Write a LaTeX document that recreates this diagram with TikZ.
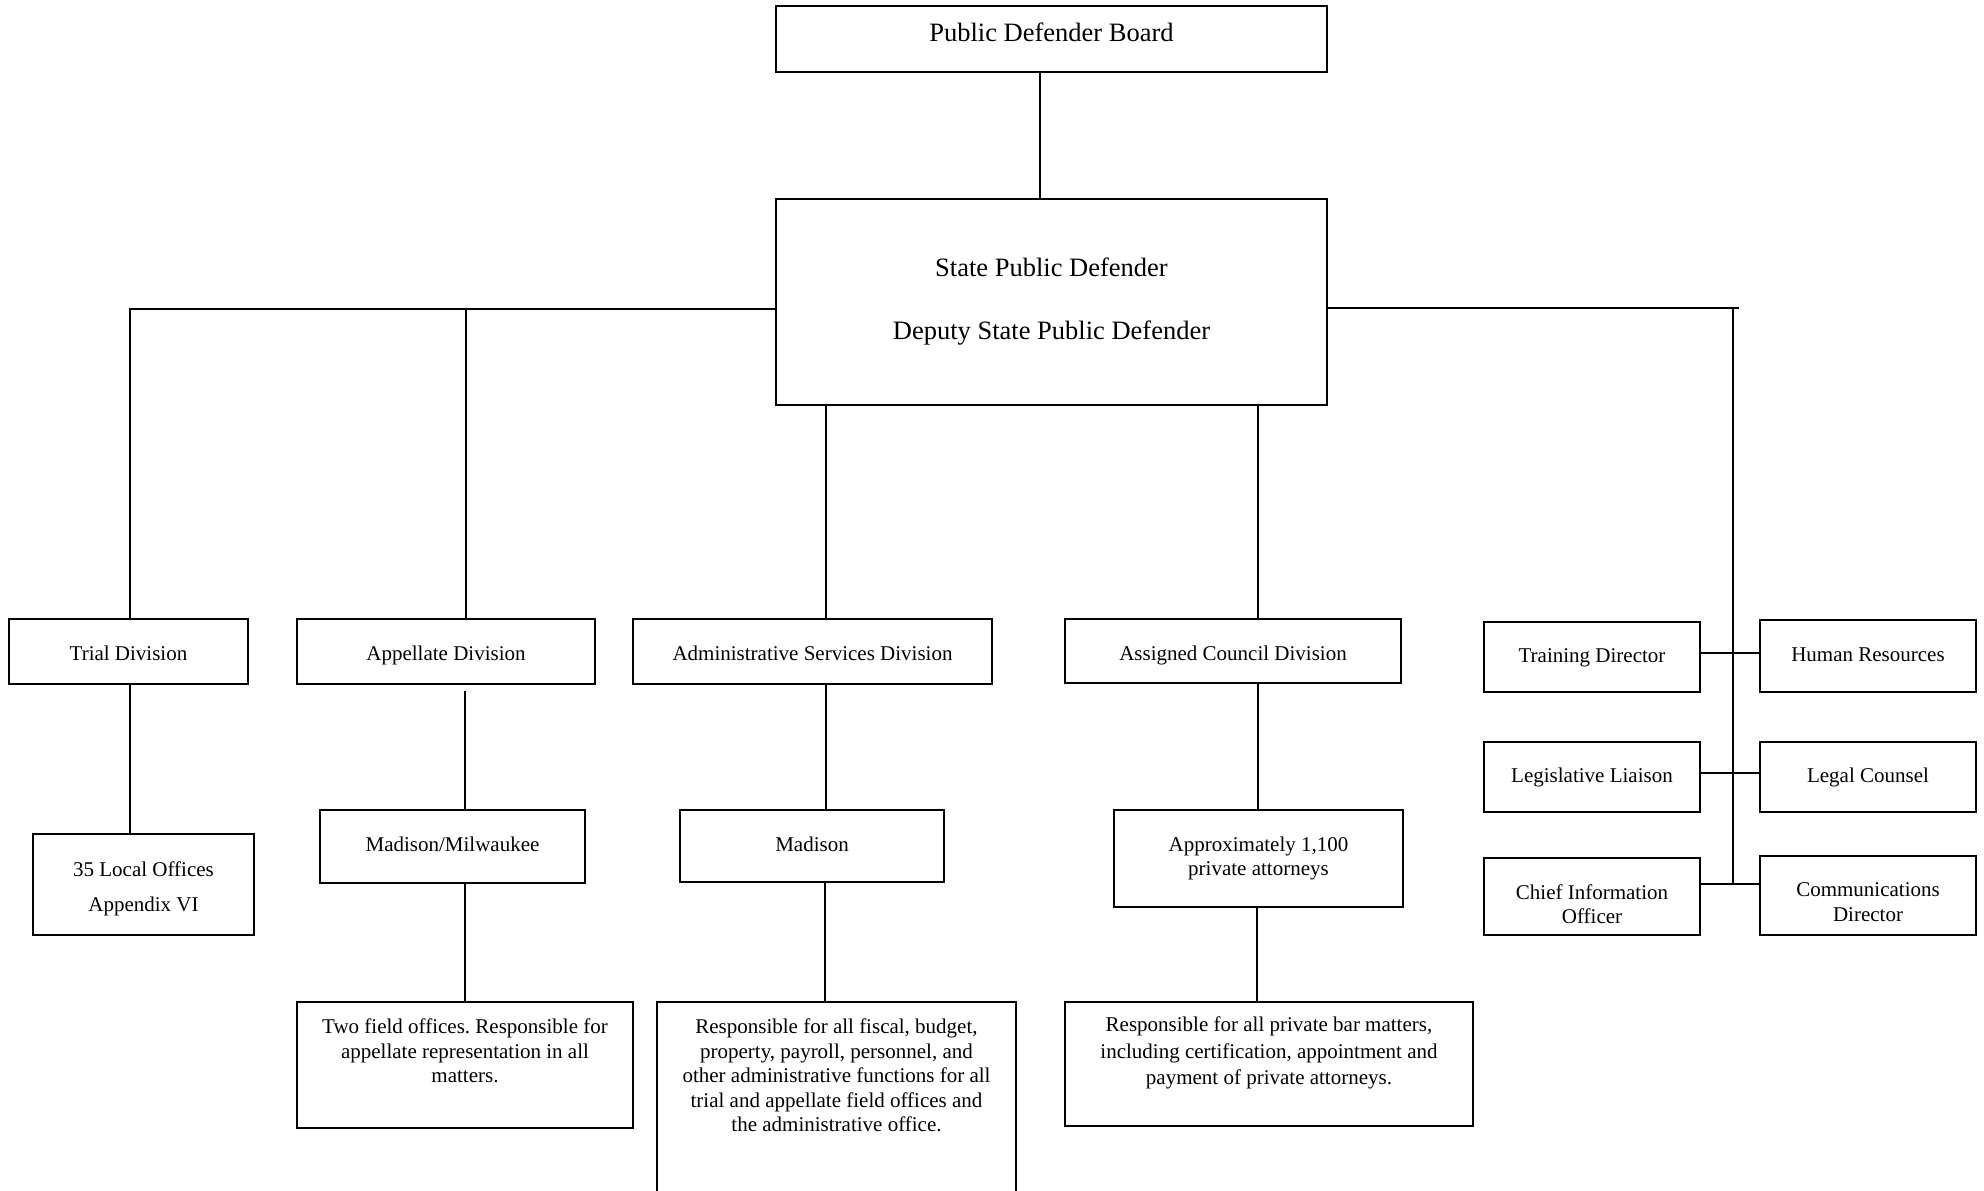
\documentclass[tikz,border=0pt]{standalone}
\usepackage{fontspec}
\setmainfont{Liberation Serif}
\begin{document}
\frenchspacing
\begin{tikzpicture}[x=1pt,y=-1pt,
  bx/.style={draw, line width=2pt, inner sep=0pt, align=center, font=\fontsize{21}{24.5}\selectfont},
  sbx/.style={bx, text height=14.5pt, text depth=4.5pt},
  divbx/.style={bx, text height=18.5pt, text depth=0.5pt},
  bigbx/.style={bx, font=\fontsize{26.5}{30}\selectfont},
  dbx/.style={draw, line width=2pt, inner sep=0pt, font=\fontsize{21}{24.5}\selectfont},
  conn/.style={line width=1.6pt}]
\useasboundingbox (0,0) rectangle (1984,1191);
\clip (0,0) rectangle (1984,1191);

% top
\node[bigbx, text height=18pt, text depth=12.5pt, minimum width=551pt, minimum height=66pt] (board) at (1051.5,39) {Public Defender Board};
\node[bigbx, minimum width=551pt, minimum height=206pt] (spd) at (1051.5,302) {State Public Defender\\[33pt]Deputy State Public Defender};

% divisions
\node[divbx, minimum width=239pt, minimum height=65pt] (trial) at (128.5,651.5) {Trial Division};
\node[divbx, minimum width=298pt, minimum height=65pt] (appel) at (446,651.5) {Appellate Division};
\node[divbx, minimum width=359pt, minimum height=65pt] (admin) at (812.5,651.5) {Administrative Services Division};
\node[divbx, minimum width=336pt, minimum height=64pt] (assigned) at (1233,651) {Assigned Council Division};

% second level
\node[bx, minimum width=221pt, minimum height=101pt] (local) at (143.5,884.5) {\rule{0pt}{23pt}35 Local Offices\\[10.5pt]Appendix VI};
\node[sbx, minimum width=265pt, minimum height=73pt] (mm) at (452.5,846.5) {Madison/Milwaukee};
\node[sbx, minimum width=264pt, minimum height=72pt] (madison) at (812,846) {Madison};
\node[bx, minimum width=289pt, minimum height=97pt] (approx) at (1258.5,858.5) {Approximately 1,100\\private attorneys};

% descriptions
\node[dbx] (twofield) at (465,1065) {\parbox[c][126pt][t]{336pt}{\centering\vspace*{17pt}Two field offices. Responsible for\\ appellate representation in all\\ matters.}};
\node[dbx] (admdesc) at (836.5,1132) {\parbox[c][260pt][t]{359pt}{\centering\vspace*{17pt}Responsible for all fiscal, budget,\\ property, payroll, personnel, and\\ other administrative functions for all\\ trial and appellate field offices and\\ the administrative office.}};
\node[dbx] (privbar) at (1269,1064) {\parbox[c][124pt][t]{408pt}{\fontsize{21}{26.5}\selectfont\centering\vspace*{15pt}Responsible for all private bar matters,\\ including certification, appointment and\\ payment of private attorneys.}};

% staff boxes
\node[sbx, minimum width=216pt, minimum height=70pt] (td) at (1592,657) {Training Director};
\node[sbx, minimum width=216pt, minimum height=72pt] (hr) at (1868,656) {Human Resources};
\node[sbx, minimum width=216pt, minimum height=70pt] (ll) at (1592,777) {Legislative Liaison};
\node[sbx, minimum width=216pt, minimum height=70pt] (lc) at (1868,777) {Legal Counsel};
\node[bx, minimum width=216pt, minimum height=77pt] (cio) at (1592,896.5) {\rule{0pt}{30pt}Chief Information\\Officer};
\node[bx, minimum width=216pt, minimum height=79pt] (cd) at (1868,895.5) {\rule{0pt}{27pt}Communications\\Director};

% helper coordinates
\coordinate (xBoard) at (1040,0);
\coordinate (busL) at (0,309);
\coordinate (busR) at (0,308);
\coordinate (xTrial) at (130,0);
\coordinate (xApp) at (466,0);
\coordinate (xApp2) at (465,0);
\coordinate (xAdm) at (826,0);
\coordinate (xAdm2) at (825,0);
\coordinate (xAsg) at (1258,0);
\coordinate (xAsg2) at (1257,0);
\coordinate (xR) at (1733,0);
\coordinate (rEnd) at (1739,308);
\coordinate (yTD) at (0,653);
\coordinate (yLL) at (0,773);
\coordinate (yCIO) at (0,884);
\coordinate (appGap) at ([yshift=-6pt]appel.south);

% connectors
\draw[conn] (board.south -| xBoard) -- (spd.north -| xBoard);
\draw[conn] (spd.west |- busL) -- (xTrial |- busL) -- (trial.north -| xTrial);
\draw[conn] (xApp |- busL) -- (appel.north -| xApp);
\draw[conn] (spd.east |- busR) -- (rEnd);
\draw[conn] (xR |- busR) -- (xR |- yCIO);
\draw[conn] (spd.south -| xAdm) -- (admin.north -| xAdm);
\draw[conn] (spd.south -| xAsg) -- (assigned.north -| xAsg);
\draw[conn] (trial.south -| xTrial) -- (local.north -| xTrial);
\draw[conn] (appGap -| xApp2) -- (mm.north -| xApp2);
\draw[conn] (mm.south -| xApp2) -- (twofield.north -| xApp2);
\draw[conn] (admin.south -| xAdm) -- (madison.north -| xAdm);
\draw[conn] (madison.south -| xAdm2) -- (admdesc.north -| xAdm2);
\draw[conn] (assigned.south -| xAsg) -- (approx.north -| xAsg);
\draw[conn] (approx.south -| xAsg2) -- (privbar.north -| xAsg2);
\draw[conn] (td.east |- yTD) -- (hr.west |- yTD);
\draw[conn] (ll.east |- yLL) -- (lc.west |- yLL);
\draw[conn] (cio.east |- yCIO) -- (cd.west |- yCIO);
\end{tikzpicture}
\end{document}
